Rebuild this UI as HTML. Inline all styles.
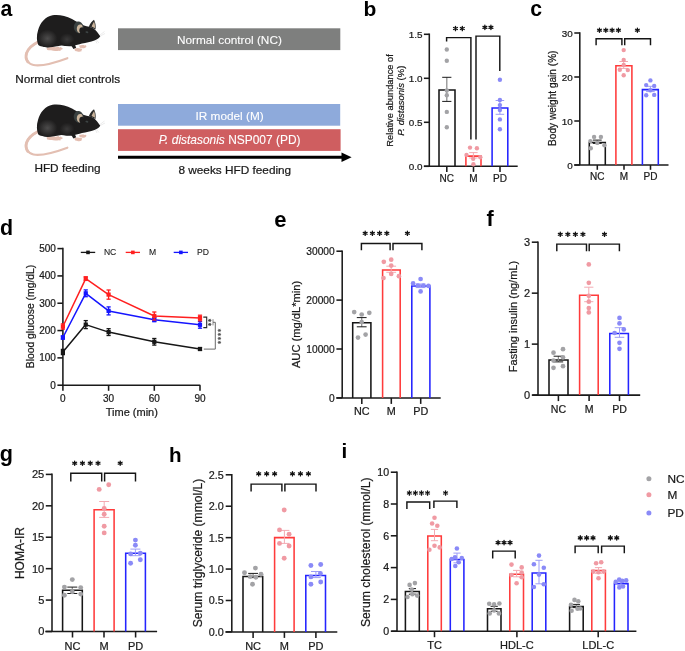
<!DOCTYPE html><html><head><meta charset="utf-8"><style>html,body{margin:0;padding:0;background:#fff;width:685px;height:651px;overflow:hidden}svg{display:block}text{font-family:"Liberation Sans", sans-serif;-webkit-font-smoothing:antialiased;stroke:currentColor;stroke-width:0.22px}text[font-weight=bold]{stroke-width:0}text[fill="#fff"]{stroke-width:0.1px}svg{will-change:transform}</style></head><body>
<svg width="685" height="651" viewBox="0 0 685 651">
<rect width="685" height="651" fill="#fff"/>
<defs>
<radialGradient id="hg1" cx="0.5" cy="0.5" r="0.5"><stop offset="0" stop-color="#4d4c4c"/><stop offset="1" stop-color="#1d1c1c"/></radialGradient>
<radialGradient id="hg2" cx="0.5" cy="0.5" r="0.5"><stop offset="0" stop-color="#3a3939"/><stop offset="1" stop-color="#1d1c1c"/></radialGradient>
</defs>
<g>
<path d="M37.2 42.6 C33 44.5 28.5 48 26.6 53 C24.8 58.5 27.5 63.8 33.5 65 C42 66.6 55 62.8 67.4 58.2" fill="none" stroke="#e3bfb2" stroke-width="2.1" stroke-linecap="round"/><path d="M38 42 C33 44.5 28.5 48 26.6 53 C25.5 56.5 26 59.5 27.8 61.8" fill="none" stroke="#e3bfb2" stroke-width="2.9" stroke-linecap="round"/>
<path d="M46.5 48 C49 46.8 53 47 56 47.3 L58.5 46.6 L59.3 47.4 L61 47.1 L61.7 48.1 L62.8 48.3 L62.2 49.5 L60.6 49.8 L60.5 51 L58.8 50.7 C55 51.2 50 50.7 47.2 50 Z" fill="#e3bdb0"/>
<path d="M74.4 48.6 C76.5 47.6 79 47.8 80.2 48.6 L81.6 48.4 L82.2 49.4 L81.4 50.4 L81.6 51.3 L80.2 51.5 C78.5 52 76 51.8 74.8 50.6 Z" fill="#e3bdb0"/>
<path d="M79.2 45.6 C81 44.8 83.5 44.8 84.6 45.4 L85.8 45.3 L86.5 46.2 L85.9 47.2 L84.9 47.9 C83 48.4 80.6 48.2 79.5 47.3 Z" fill="#e3bdb0"/>
<path d="M38.3 45 C36.6 41 36.4 35.5 38 30.5 C40 22.5 45.5 16.6 52.5 15.2 C58.5 14.3 65.5 15.6 72 19 C76 21.2 79.5 23.5 84 25.6 C87.5 26.8 91 27 93.5 28.4 C96 30 98.5 33.5 100.3 36.3 C99.6 37.8 97.5 39.3 94.5 40.4 C90.5 41.7 86 42.5 82 43.6 C78.5 44.5 76.2 45.3 73.6 45.9 C70 46.8 65.5 46.2 61.5 45.6 C57 46.3 52.5 47.6 48 47.2 C43.5 46.9 40 46.6 38.3 45 Z" fill="#1e1d1d"/>
<ellipse cx="47.5" cy="38.5" rx="10" ry="9" fill="url(#hg1)"/>
<ellipse cx="67" cy="39.5" rx="7.5" ry="6.5" fill="url(#hg2)"/>
<path d="M69.8 43 L73.4 41.6 L76.2 47.8 L73.4 49 Z" fill="#1e1d1d"/>
<ellipse cx="78.7" cy="27.4" rx="4.9" ry="5.9" fill="#394040" transform="rotate(-10 78.7 27.4)"/>
<ellipse cx="82" cy="30.4" rx="2.4" ry="3" fill="#1e1d1d"/>
<path d="M81.9 25.1 C79.2 23.6 76.6 25.8 76.8 29 C77 31.6 78.3 33 80.1 33.2 C79.1 31.6 78.9 29.7 79.8 28.3 C80.5 27.4 81.5 27.1 82.5 27.5 C82.7 26.6 82.5 25.7 81.9 25.1 Z" fill="#cbb49b"/>
<path d="M88.8 26.8 C90 23.6 92 21 94 19.8 C95.5 22.5 96 26 95.5 29.4 C93.5 28.6 91 27.6 88.8 26.8 Z" fill="#2a2b2b"/>
<path d="M91.6 26.6 C92.4 24.4 93.3 22.4 94.1 21.4 C94.9 23.6 95.1 26 94.9 28.2 C93.8 27.7 92.6 27.1 91.6 26.6 Z" fill="#cbb49b"/>
<ellipse cx="86.9" cy="32.2" rx="1.5" ry="0.9" fill="#3d4444" transform="rotate(15 86.9 32.2)"/>
<path d="M100 35 L104.5 31.5 M100.2 36 L105 33.5 M96.5 40 L99 43 M95.5 40.5 L97 43.5" stroke="#d8d8d8" stroke-width="0.5"/>
</g>
<g transform="translate(0 89.5)">
<path d="M37.2 42.6 C33 44.5 28.5 48 26.6 53 C24.8 58.5 27.5 63.8 33.5 65 C42 66.6 55 62.8 67.4 58.2" fill="none" stroke="#e3bfb2" stroke-width="2.1" stroke-linecap="round"/><path d="M38 42 C33 44.5 28.5 48 26.6 53 C25.5 56.5 26 59.5 27.8 61.8" fill="none" stroke="#e3bfb2" stroke-width="2.9" stroke-linecap="round"/>
<path d="M46.5 48 C49 46.8 53 47 56 47.3 L58.5 46.6 L59.3 47.4 L61 47.1 L61.7 48.1 L62.8 48.3 L62.2 49.5 L60.6 49.8 L60.5 51 L58.8 50.7 C55 51.2 50 50.7 47.2 50 Z" fill="#e3bdb0"/>
<path d="M74.4 48.6 C76.5 47.6 79 47.8 80.2 48.6 L81.6 48.4 L82.2 49.4 L81.4 50.4 L81.6 51.3 L80.2 51.5 C78.5 52 76 51.8 74.8 50.6 Z" fill="#e3bdb0"/>
<path d="M79.2 45.6 C81 44.8 83.5 44.8 84.6 45.4 L85.8 45.3 L86.5 46.2 L85.9 47.2 L84.9 47.9 C83 48.4 80.6 48.2 79.5 47.3 Z" fill="#e3bdb0"/>
<path d="M38.3 45 C36.6 41 36.4 35.5 38 30.5 C40 22.5 45.5 16.6 52.5 15.2 C58.5 14.3 65.5 15.6 72 19 C76 21.2 79.5 23.5 84 25.6 C87.5 26.8 91 27 93.5 28.4 C96 30 98.5 33.5 100.3 36.3 C99.6 37.8 97.5 39.3 94.5 40.4 C90.5 41.7 86 42.5 82 43.6 C78.5 44.5 76.2 45.3 73.6 45.9 C70 46.8 65.5 46.2 61.5 45.6 C57 46.3 52.5 47.6 48 47.2 C43.5 46.9 40 46.6 38.3 45 Z" fill="#1e1d1d"/>
<ellipse cx="47.5" cy="38.5" rx="10" ry="9" fill="url(#hg1)"/>
<ellipse cx="67" cy="39.5" rx="7.5" ry="6.5" fill="url(#hg2)"/>
<path d="M69.8 43 L73.4 41.6 L76.2 47.8 L73.4 49 Z" fill="#1e1d1d"/>
<ellipse cx="78.7" cy="27.4" rx="4.9" ry="5.9" fill="#394040" transform="rotate(-10 78.7 27.4)"/>
<ellipse cx="82" cy="30.4" rx="2.4" ry="3" fill="#1e1d1d"/>
<path d="M81.9 25.1 C79.2 23.6 76.6 25.8 76.8 29 C77 31.6 78.3 33 80.1 33.2 C79.1 31.6 78.9 29.7 79.8 28.3 C80.5 27.4 81.5 27.1 82.5 27.5 C82.7 26.6 82.5 25.7 81.9 25.1 Z" fill="#cbb49b"/>
<path d="M88.8 26.8 C90 23.6 92 21 94 19.8 C95.5 22.5 96 26 95.5 29.4 C93.5 28.6 91 27.6 88.8 26.8 Z" fill="#2a2b2b"/>
<path d="M91.6 26.6 C92.4 24.4 93.3 22.4 94.1 21.4 C94.9 23.6 95.1 26 94.9 28.2 C93.8 27.7 92.6 27.1 91.6 26.6 Z" fill="#cbb49b"/>
<ellipse cx="86.9" cy="32.2" rx="1.5" ry="0.9" fill="#3d4444" transform="rotate(15 86.9 32.2)"/>
<path d="M100 35 L104.5 31.5 M100.2 36 L105 33.5 M96.5 40 L99 43 M95.5 40.5 L97 43.5" stroke="#d8d8d8" stroke-width="0.5"/>
</g>
<text x="0.6" y="15.7" font-size="21.2" text-anchor="start" font-weight="bold" fill="#000" color="#000">a</text>
<rect x="118" y="28.3" width="222.3" height="21.8" fill="#7e7f7e"/>
<text x="229.4" y="44.2" font-size="11.8" text-anchor="middle" fill="#fff" color="#fff">Normal control (NC)</text>
<text x="67.6" y="83.2" font-size="11.8" text-anchor="middle" fill="#1a1a1a" color="#1a1a1a">Normal diet controls</text>
<rect x="118" y="104" width="222.2" height="21.7" fill="#8eaadb"/>
<text x="229.6" y="119.9" font-size="11.8" text-anchor="middle" fill="#fff" color="#fff">IR model (M)</text>
<rect x="118" y="129.2" width="222.6" height="21.7" fill="#cf5e60"/>
<text x="229.6" y="144.4" font-size="11.95" text-anchor="middle" fill="#fff" color="#fff"><tspan font-style="italic">P. distasonis</tspan> NSP007 (PD)</text>
<line x1="118" y1="157.3" x2="343" y2="157.3" stroke="#000" stroke-width="3" stroke-linecap="butt"/>
<path d="M341.5 152.6 L351.6 157.3 L341.5 162 Z" fill="#000"/>
<text x="67.5" y="172.4" font-size="11.8" text-anchor="middle" fill="#1a1a1a" color="#1a1a1a">HFD feeding</text>
<text x="234.8" y="174.2" font-size="11.8" text-anchor="middle" fill="#1a1a1a" color="#1a1a1a">8 weeks HFD feeding</text>
<text x="363.4" y="15.8" font-size="21" text-anchor="start" font-weight="bold" fill="#000" color="#000">b</text>
<line x1="429.3" y1="33.52" x2="429.3" y2="166.3" stroke="#1a1a1a" stroke-width="1.55" stroke-linecap="butt"/>
<line x1="423.9" y1="166.3" x2="429.3" y2="166.3" stroke="#1a1a1a" stroke-width="1.55" stroke-linecap="butt"/>
<text x="422.6" y="169.83" font-size="9.9" text-anchor="end" fill="#1a1a1a" color="#1a1a1a">0.0</text>
<line x1="423.9" y1="122.3" x2="429.3" y2="122.3" stroke="#1a1a1a" stroke-width="1.55" stroke-linecap="butt"/>
<text x="422.6" y="125.83" font-size="9.9" text-anchor="end" fill="#1a1a1a" color="#1a1a1a">0.5</text>
<line x1="423.9" y1="78.3" x2="429.3" y2="78.3" stroke="#1a1a1a" stroke-width="1.55" stroke-linecap="butt"/>
<text x="422.6" y="81.83" font-size="9.9" text-anchor="end" fill="#1a1a1a" color="#1a1a1a">1.0</text>
<line x1="423.9" y1="34.3" x2="429.3" y2="34.3" stroke="#1a1a1a" stroke-width="1.55" stroke-linecap="butt"/>
<text x="422.6" y="37.83" font-size="9.9" text-anchor="end" fill="#1a1a1a" color="#1a1a1a">1.5</text>
<line x1="423.9" y1="166.3" x2="517.7" y2="166.3" stroke="#1a1a1a" stroke-width="1.55" stroke-linecap="butt"/>
<line x1="446.8" y1="166.3" x2="446.8" y2="171.9" stroke="#1a1a1a" stroke-width="1.55" stroke-linecap="butt"/>
<text x="446.8" y="182.2" font-size="10" text-anchor="middle" fill="#1a1a1a" color="#1a1a1a">NC</text>
<line x1="473.5" y1="166.3" x2="473.5" y2="171.9" stroke="#1a1a1a" stroke-width="1.55" stroke-linecap="butt"/>
<text x="473.5" y="182.2" font-size="10" text-anchor="middle" fill="#1a1a1a" color="#1a1a1a">M</text>
<line x1="500" y1="166.3" x2="500" y2="171.9" stroke="#1a1a1a" stroke-width="1.55" stroke-linecap="butt"/>
<text x="500" y="182.2" font-size="10" text-anchor="middle" fill="#1a1a1a" color="#1a1a1a">PD</text>
<path d="M439 166.3V90H455V166.3" fill="none" stroke="#161616" stroke-width="1.55"/>
<path d="M465.9 166.3V156.1H481V166.3" fill="none" stroke="#ff3b3b" stroke-width="1.55"/>
<path d="M492.1 166.3V107.9H507.8V166.3" fill="none" stroke="#2424ff" stroke-width="1.55"/>
<line x1="446.8" y1="77.3" x2="446.8" y2="101.4" stroke="#8c8c8c" stroke-width="1.25" stroke-linecap="butt"/>
<line x1="442.2" y1="77.3" x2="451.4" y2="77.3" stroke="#1a1a1a" stroke-width="1" stroke-linecap="butt"/>
<line x1="442.2" y1="101.4" x2="451.4" y2="101.4" stroke="#1a1a1a" stroke-width="1" stroke-linecap="butt"/>
<line x1="473.4" y1="152.6" x2="473.4" y2="158" stroke="#f3aab2" stroke-width="1" stroke-linecap="butt"/>
<line x1="469.2" y1="152.6" x2="477.6" y2="152.6" stroke="#f3aab2" stroke-width="1" stroke-linecap="butt"/>
<line x1="469.2" y1="158" x2="477.6" y2="158" stroke="#f3aab2" stroke-width="1" stroke-linecap="butt"/>
<line x1="499.9" y1="100.5" x2="499.9" y2="114.3" stroke="#9d9df7" stroke-width="1" stroke-linecap="butt"/>
<line x1="495.6" y1="100.5" x2="504.2" y2="100.5" stroke="#9d9df7" stroke-width="1" stroke-linecap="butt"/>
<line x1="495.6" y1="114.3" x2="504.2" y2="114.3" stroke="#9d9df7" stroke-width="1" stroke-linecap="butt"/>
<polyline points="446.6,41.5 446.6,37.6 470.9,37.6 470.9,139.6" fill="none" stroke="#151515" stroke-width="1.45" stroke-linejoin="miter"/>
<polyline points="476,139.6 476,36.1 499.8,36.1 499.8,71.1" fill="none" stroke="#151515" stroke-width="1.45" stroke-linejoin="miter"/>
<path d="M455.48 26.35L455.48 30.65M453.56 27.52L457.39 29.48M453.56 29.48L457.39 27.52" stroke="#111" stroke-width="1.32" stroke-linecap="round"/>
<path d="M462.32 26.35L462.32 30.65M460.41 27.52L464.24 29.48M460.41 29.48L464.24 27.52" stroke="#111" stroke-width="1.32" stroke-linecap="round"/>
<path d="M484.88 25.25L484.88 29.55M482.96 26.42L486.79 28.38M482.96 28.38L486.79 26.42" stroke="#111" stroke-width="1.32" stroke-linecap="round"/>
<path d="M490.93 25.25L490.93 29.55M489.01 26.42L492.84 28.38M489.01 28.38L492.84 26.42" stroke="#111" stroke-width="1.32" stroke-linecap="round"/>
<text x="392.8" y="100.4" font-size="9.3" text-anchor="middle" fill="#1a1a1a" color="#1a1a1a" transform="rotate(-90 392.8 100.4)">Relative abundance of</text>
<text x="403.6" y="100.7" font-size="9.5" text-anchor="middle" fill="#1a1a1a" color="#1a1a1a" transform="rotate(-90 403.6 100.7)"><tspan font-style="italic">P. distasonis</tspan> (%)</text>
<circle cx="446.8" cy="49.5" r="2.2" fill="#a3a3a6"/>
<circle cx="446.8" cy="60.7" r="2.2" fill="#a3a3a6"/>
<circle cx="446.8" cy="90.5" r="2.2" fill="#a3a3a6"/>
<circle cx="446.8" cy="95.3" r="2.2" fill="#a3a3a6"/>
<circle cx="446.8" cy="111.9" r="2.2" fill="#a3a3a6"/>
<circle cx="446.8" cy="127.3" r="2.2" fill="#a3a3a6"/>
<circle cx="470" cy="147.6" r="2.2" fill="#f09aa3"/>
<circle cx="476.9" cy="148.3" r="2.2" fill="#f09aa3"/>
<circle cx="466.5" cy="154.9" r="2.2" fill="#f09aa3"/>
<circle cx="480.3" cy="157.2" r="2.2" fill="#f09aa3"/>
<circle cx="473.2" cy="158.8" r="2.2" fill="#f09aa3"/>
<circle cx="473.4" cy="164.3" r="2.2" fill="#f09aa3"/>
<circle cx="499.9" cy="79.7" r="2.2" fill="#8a8af7"/>
<circle cx="499.9" cy="100" r="2.2" fill="#8a8af7"/>
<circle cx="499.9" cy="105.1" r="2.2" fill="#8a8af7"/>
<circle cx="499.9" cy="110.1" r="2.2" fill="#8a8af7"/>
<circle cx="499.9" cy="119.4" r="2.2" fill="#8a8af7"/>
<circle cx="499.9" cy="129.2" r="2.2" fill="#8a8af7"/>
<text x="530.2" y="15.5" font-size="21.2" text-anchor="start" font-weight="bold" fill="#000" color="#000">c</text>
<line x1="579.8" y1="32.23" x2="579.8" y2="165" stroke="#1a1a1a" stroke-width="1.55" stroke-linecap="butt"/>
<line x1="574.3" y1="165" x2="579.8" y2="165" stroke="#1a1a1a" stroke-width="1.55" stroke-linecap="butt"/>
<text x="572.8" y="168.53" font-size="9.9" text-anchor="end" fill="#1a1a1a" color="#1a1a1a">0</text>
<line x1="574.3" y1="121" x2="579.8" y2="121" stroke="#1a1a1a" stroke-width="1.55" stroke-linecap="butt"/>
<text x="572.8" y="124.53" font-size="9.9" text-anchor="end" fill="#1a1a1a" color="#1a1a1a">10</text>
<line x1="574.3" y1="77" x2="579.8" y2="77" stroke="#1a1a1a" stroke-width="1.55" stroke-linecap="butt"/>
<text x="572.8" y="80.53" font-size="9.9" text-anchor="end" fill="#1a1a1a" color="#1a1a1a">20</text>
<line x1="574.3" y1="33" x2="579.8" y2="33" stroke="#1a1a1a" stroke-width="1.55" stroke-linecap="butt"/>
<text x="572.8" y="36.53" font-size="9.9" text-anchor="end" fill="#1a1a1a" color="#1a1a1a">30</text>
<line x1="574.3" y1="165" x2="668.5" y2="165" stroke="#1a1a1a" stroke-width="1.55" stroke-linecap="butt"/>
<line x1="597.3" y1="165" x2="597.3" y2="169.8" stroke="#1a1a1a" stroke-width="1.55" stroke-linecap="butt"/>
<text x="597.3" y="180" font-size="10" text-anchor="middle" fill="#1a1a1a" color="#1a1a1a">NC</text>
<line x1="624" y1="165" x2="624" y2="169.8" stroke="#1a1a1a" stroke-width="1.55" stroke-linecap="butt"/>
<text x="624" y="180" font-size="10" text-anchor="middle" fill="#1a1a1a" color="#1a1a1a">M</text>
<line x1="650.5" y1="165" x2="650.5" y2="169.8" stroke="#1a1a1a" stroke-width="1.55" stroke-linecap="butt"/>
<text x="650.5" y="180" font-size="10" text-anchor="middle" fill="#1a1a1a" color="#1a1a1a">PD</text>
<path d="M589.3 165V142.4H605.3V165" fill="none" stroke="#161616" stroke-width="1.55"/>
<path d="M615.9 165V65.7H631.9V165" fill="none" stroke="#ff3b3b" stroke-width="1.55"/>
<path d="M642.4 165V89.6H658.3V165" fill="none" stroke="#2424ff" stroke-width="1.55"/>
<line x1="597.3" y1="140.1" x2="597.3" y2="143.4" stroke="#8c8c8c" stroke-width="1.25" stroke-linecap="butt"/>
<line x1="592.9" y1="140.1" x2="601.7" y2="140.1" stroke="#1a1a1a" stroke-width="1" stroke-linecap="butt"/>
<line x1="592.9" y1="143.4" x2="601.7" y2="143.4" stroke="#1a1a1a" stroke-width="1" stroke-linecap="butt"/>
<line x1="623.7" y1="61.5" x2="623.7" y2="68.4" stroke="#f3aab2" stroke-width="1" stroke-linecap="butt"/>
<line x1="619.4" y1="61.5" x2="628" y2="61.5" stroke="#f3aab2" stroke-width="1" stroke-linecap="butt"/>
<line x1="619.4" y1="68.4" x2="628" y2="68.4" stroke="#f3aab2" stroke-width="1" stroke-linecap="butt"/>
<line x1="650.4" y1="86.3" x2="650.4" y2="91.6" stroke="#9d9df7" stroke-width="1" stroke-linecap="butt"/>
<line x1="646.1" y1="86.3" x2="654.7" y2="86.3" stroke="#9d9df7" stroke-width="1" stroke-linecap="butt"/>
<line x1="646.1" y1="91.6" x2="654.7" y2="91.6" stroke="#9d9df7" stroke-width="1" stroke-linecap="butt"/>
<polyline points="596.1,45.2 596.1,38.7 621.9,38.7 621.9,45.2" fill="none" stroke="#151515" stroke-width="1.45" stroke-linejoin="miter"/>
<polyline points="624.7,45.2 624.7,38.7 650.5,38.7 650.5,45.2" fill="none" stroke="#151515" stroke-width="1.45" stroke-linejoin="miter"/>
<path d="M599.47 28.05L599.47 32.35M597.56 29.22L601.39 31.18M597.56 31.18L601.39 29.22" stroke="#111" stroke-width="1.32" stroke-linecap="round"/>
<path d="M605.79 28.05L605.79 32.35M603.88 29.22L607.71 31.18M603.88 31.18L607.71 29.22" stroke="#111" stroke-width="1.32" stroke-linecap="round"/>
<path d="M612.11 28.05L612.11 32.35M610.19 29.22L614.02 31.18M610.19 31.18L614.02 29.22" stroke="#111" stroke-width="1.32" stroke-linecap="round"/>
<path d="M618.43 28.05L618.43 32.35M616.51 29.22L620.34 31.18M616.51 31.18L620.34 29.22" stroke="#111" stroke-width="1.32" stroke-linecap="round"/>
<path d="M637.4 28.05L637.4 32.35M635.48 29.22L639.32 31.18M635.48 31.18L639.32 29.22" stroke="#111" stroke-width="1.32" stroke-linecap="round"/>
<text x="556.2" y="98.2" font-size="10.1" text-anchor="middle" fill="#1a1a1a" color="#1a1a1a" transform="rotate(-90 556.2 98.2)">Body weight gain (%)</text>
<circle cx="594.1" cy="136.9" r="2.2" fill="#a3a3a6"/>
<circle cx="600.9" cy="136.9" r="2.2" fill="#a3a3a6"/>
<circle cx="590.4" cy="141.1" r="2.2" fill="#a3a3a6"/>
<circle cx="597.3" cy="142.9" r="2.2" fill="#a3a3a6"/>
<circle cx="604.4" cy="145.2" r="2.2" fill="#a3a3a6"/>
<circle cx="590.8" cy="148.3" r="2.2" fill="#a3a3a6"/>
<circle cx="623.7" cy="50.1" r="2.2" fill="#f09aa3"/>
<circle cx="623.7" cy="59.9" r="2.2" fill="#f09aa3"/>
<circle cx="623.7" cy="64.9" r="2.2" fill="#f09aa3"/>
<circle cx="619.8" cy="69.8" r="2.2" fill="#f09aa3"/>
<circle cx="627.8" cy="70.1" r="2.2" fill="#f09aa3"/>
<circle cx="623.7" cy="75.3" r="2.2" fill="#f09aa3"/>
<circle cx="650.4" cy="80.4" r="2.2" fill="#8a8af7"/>
<circle cx="646.2" cy="85.1" r="2.2" fill="#8a8af7"/>
<circle cx="654.2" cy="85.9" r="2.2" fill="#8a8af7"/>
<circle cx="650.4" cy="90.3" r="2.2" fill="#8a8af7"/>
<circle cx="646.2" cy="95.2" r="2.2" fill="#8a8af7"/>
<circle cx="654.2" cy="94.9" r="2.2" fill="#8a8af7"/>
<text x="0" y="234.6" font-size="21.4" text-anchor="start" font-weight="bold" fill="#000" color="#000">d</text>
<line x1="62.9" y1="247.82" x2="62.9" y2="390.8" stroke="#1a1a1a" stroke-width="1.55" stroke-linecap="butt"/>
<line x1="57.4" y1="385.2" x2="62.9" y2="385.2" stroke="#1a1a1a" stroke-width="1.55" stroke-linecap="butt"/>
<text x="55.9" y="388.75" font-size="10" text-anchor="end" fill="#1a1a1a" color="#1a1a1a">0</text>
<line x1="57.4" y1="357.88" x2="62.9" y2="357.88" stroke="#1a1a1a" stroke-width="1.55" stroke-linecap="butt"/>
<text x="55.9" y="361.43" font-size="10" text-anchor="end" fill="#1a1a1a" color="#1a1a1a">100</text>
<line x1="57.4" y1="330.56" x2="62.9" y2="330.56" stroke="#1a1a1a" stroke-width="1.55" stroke-linecap="butt"/>
<text x="55.9" y="334.11" font-size="10" text-anchor="end" fill="#1a1a1a" color="#1a1a1a">200</text>
<line x1="57.4" y1="303.24" x2="62.9" y2="303.24" stroke="#1a1a1a" stroke-width="1.55" stroke-linecap="butt"/>
<text x="55.9" y="306.79" font-size="10" text-anchor="end" fill="#1a1a1a" color="#1a1a1a">300</text>
<line x1="57.4" y1="275.92" x2="62.9" y2="275.92" stroke="#1a1a1a" stroke-width="1.55" stroke-linecap="butt"/>
<text x="55.9" y="279.47" font-size="10" text-anchor="end" fill="#1a1a1a" color="#1a1a1a">400</text>
<line x1="57.4" y1="248.6" x2="62.9" y2="248.6" stroke="#1a1a1a" stroke-width="1.55" stroke-linecap="butt"/>
<text x="55.9" y="252.15" font-size="10" text-anchor="end" fill="#1a1a1a" color="#1a1a1a">500</text>
<line x1="62.2" y1="385.2" x2="200.3" y2="385.2" stroke="#1a1a1a" stroke-width="1.55" stroke-linecap="butt"/>
<line x1="108.6" y1="385.2" x2="108.6" y2="390.8" stroke="#1a1a1a" stroke-width="1.55" stroke-linecap="butt"/>
<line x1="154.3" y1="385.2" x2="154.3" y2="390.8" stroke="#1a1a1a" stroke-width="1.55" stroke-linecap="butt"/>
<line x1="200" y1="385.2" x2="200" y2="390.8" stroke="#1a1a1a" stroke-width="1.55" stroke-linecap="butt"/>
<text x="62.9" y="402" font-size="10" text-anchor="middle" fill="#1a1a1a" color="#1a1a1a">0</text>
<text x="108.6" y="402" font-size="10" text-anchor="middle" fill="#1a1a1a" color="#1a1a1a">30</text>
<text x="154.3" y="402" font-size="10" text-anchor="middle" fill="#1a1a1a" color="#1a1a1a">60</text>
<text x="200" y="402" font-size="10" text-anchor="middle" fill="#1a1a1a" color="#1a1a1a">90</text>
<text x="131.8" y="416.3" font-size="11" text-anchor="middle" fill="#1a1a1a" color="#1a1a1a">Time (min)</text>
<text x="34.4" y="316.5" font-size="10.35" text-anchor="middle" fill="#1a1a1a" color="#1a1a1a" transform="rotate(-90 34.4 316.5)">Blood glucose (mg/dL)</text>
<polyline points="62.9,352 85.75,324.6 108.6,332.1 154.3,341.8 200,349" fill="none" stroke="#161616" stroke-width="1.5" stroke-linejoin="round"/>
<line x1="62.9" y1="349.4" x2="62.9" y2="354.6" stroke="#161616" stroke-width="1.3" stroke-linecap="butt"/>
<line x1="60.8" y1="349.4" x2="65" y2="349.4" stroke="#161616" stroke-width="1.3" stroke-linecap="butt"/>
<line x1="60.8" y1="354.6" x2="65" y2="354.6" stroke="#161616" stroke-width="1.3" stroke-linecap="butt"/>
<rect x="60.8" y="349.9" width="4.2" height="4.2" fill="#161616"/>
<line x1="85.75" y1="320.6" x2="85.75" y2="328.6" stroke="#161616" stroke-width="1.3" stroke-linecap="butt"/>
<line x1="83.65" y1="320.6" x2="87.85" y2="320.6" stroke="#161616" stroke-width="1.3" stroke-linecap="butt"/>
<line x1="83.65" y1="328.6" x2="87.85" y2="328.6" stroke="#161616" stroke-width="1.3" stroke-linecap="butt"/>
<rect x="83.65" y="322.5" width="4.2" height="4.2" fill="#161616"/>
<line x1="108.6" y1="328.7" x2="108.6" y2="335.5" stroke="#161616" stroke-width="1.3" stroke-linecap="butt"/>
<line x1="106.5" y1="328.7" x2="110.7" y2="328.7" stroke="#161616" stroke-width="1.3" stroke-linecap="butt"/>
<line x1="106.5" y1="335.5" x2="110.7" y2="335.5" stroke="#161616" stroke-width="1.3" stroke-linecap="butt"/>
<rect x="106.5" y="330" width="4.2" height="4.2" fill="#161616"/>
<line x1="154.3" y1="338.5" x2="154.3" y2="345.1" stroke="#161616" stroke-width="1.3" stroke-linecap="butt"/>
<line x1="152.2" y1="338.5" x2="156.4" y2="338.5" stroke="#161616" stroke-width="1.3" stroke-linecap="butt"/>
<line x1="152.2" y1="345.1" x2="156.4" y2="345.1" stroke="#161616" stroke-width="1.3" stroke-linecap="butt"/>
<rect x="152.2" y="339.7" width="4.2" height="4.2" fill="#161616"/>
<line x1="200" y1="347.6" x2="200" y2="350.4" stroke="#161616" stroke-width="1.3" stroke-linecap="butt"/>
<line x1="197.9" y1="347.6" x2="202.1" y2="347.6" stroke="#161616" stroke-width="1.3" stroke-linecap="butt"/>
<line x1="197.9" y1="350.4" x2="202.1" y2="350.4" stroke="#161616" stroke-width="1.3" stroke-linecap="butt"/>
<rect x="197.9" y="346.9" width="4.2" height="4.2" fill="#161616"/>
<polyline points="62.9,337.5 85.75,293.3 108.6,310.9 154.3,319.7 200,324.8" fill="none" stroke="#1515ff" stroke-width="1.5" stroke-linejoin="round"/>
<line x1="62.9" y1="335.9" x2="62.9" y2="339.1" stroke="#1515ff" stroke-width="1.3" stroke-linecap="butt"/>
<line x1="60.8" y1="335.9" x2="65" y2="335.9" stroke="#1515ff" stroke-width="1.3" stroke-linecap="butt"/>
<line x1="60.8" y1="339.1" x2="65" y2="339.1" stroke="#1515ff" stroke-width="1.3" stroke-linecap="butt"/>
<rect x="60.8" y="335.4" width="4.2" height="4.2" fill="#1515ff"/>
<line x1="85.75" y1="289.9" x2="85.75" y2="296.7" stroke="#1515ff" stroke-width="1.3" stroke-linecap="butt"/>
<line x1="83.65" y1="289.9" x2="87.85" y2="289.9" stroke="#1515ff" stroke-width="1.3" stroke-linecap="butt"/>
<line x1="83.65" y1="296.7" x2="87.85" y2="296.7" stroke="#1515ff" stroke-width="1.3" stroke-linecap="butt"/>
<rect x="83.65" y="291.2" width="4.2" height="4.2" fill="#1515ff"/>
<line x1="108.6" y1="306.9" x2="108.6" y2="314.9" stroke="#1515ff" stroke-width="1.3" stroke-linecap="butt"/>
<line x1="106.5" y1="306.9" x2="110.7" y2="306.9" stroke="#1515ff" stroke-width="1.3" stroke-linecap="butt"/>
<line x1="106.5" y1="314.9" x2="110.7" y2="314.9" stroke="#1515ff" stroke-width="1.3" stroke-linecap="butt"/>
<rect x="106.5" y="308.8" width="4.2" height="4.2" fill="#1515ff"/>
<line x1="154.3" y1="317.7" x2="154.3" y2="321.7" stroke="#1515ff" stroke-width="1.3" stroke-linecap="butt"/>
<line x1="152.2" y1="317.7" x2="156.4" y2="317.7" stroke="#1515ff" stroke-width="1.3" stroke-linecap="butt"/>
<line x1="152.2" y1="321.7" x2="156.4" y2="321.7" stroke="#1515ff" stroke-width="1.3" stroke-linecap="butt"/>
<rect x="152.2" y="317.6" width="4.2" height="4.2" fill="#1515ff"/>
<line x1="200" y1="321.4" x2="200" y2="328.2" stroke="#1515ff" stroke-width="1.3" stroke-linecap="butt"/>
<line x1="197.9" y1="321.4" x2="202.1" y2="321.4" stroke="#1515ff" stroke-width="1.3" stroke-linecap="butt"/>
<line x1="197.9" y1="328.2" x2="202.1" y2="328.2" stroke="#1515ff" stroke-width="1.3" stroke-linecap="butt"/>
<rect x="197.9" y="322.7" width="4.2" height="4.2" fill="#1515ff"/>
<polyline points="62.9,326.5 85.75,278.6 108.6,294.6 154.3,316 200,318" fill="none" stroke="#ff1f1f" stroke-width="1.5" stroke-linejoin="round"/>
<line x1="62.9" y1="323.9" x2="62.9" y2="329.1" stroke="#ff1f1f" stroke-width="1.3" stroke-linecap="butt"/>
<line x1="60.8" y1="323.9" x2="65" y2="323.9" stroke="#ff1f1f" stroke-width="1.3" stroke-linecap="butt"/>
<line x1="60.8" y1="329.1" x2="65" y2="329.1" stroke="#ff1f1f" stroke-width="1.3" stroke-linecap="butt"/>
<rect x="60.8" y="324.4" width="4.2" height="4.2" fill="#ff1f1f"/>
<line x1="85.75" y1="276.8" x2="85.75" y2="280.4" stroke="#ff1f1f" stroke-width="1.3" stroke-linecap="butt"/>
<line x1="83.65" y1="276.8" x2="87.85" y2="276.8" stroke="#ff1f1f" stroke-width="1.3" stroke-linecap="butt"/>
<line x1="83.65" y1="280.4" x2="87.85" y2="280.4" stroke="#ff1f1f" stroke-width="1.3" stroke-linecap="butt"/>
<rect x="83.65" y="276.5" width="4.2" height="4.2" fill="#ff1f1f"/>
<line x1="108.6" y1="290" x2="108.6" y2="299.2" stroke="#ff1f1f" stroke-width="1.3" stroke-linecap="butt"/>
<line x1="106.5" y1="290" x2="110.7" y2="290" stroke="#ff1f1f" stroke-width="1.3" stroke-linecap="butt"/>
<line x1="106.5" y1="299.2" x2="110.7" y2="299.2" stroke="#ff1f1f" stroke-width="1.3" stroke-linecap="butt"/>
<rect x="106.5" y="292.5" width="4.2" height="4.2" fill="#ff1f1f"/>
<line x1="154.3" y1="312" x2="154.3" y2="320" stroke="#ff1f1f" stroke-width="1.3" stroke-linecap="butt"/>
<line x1="152.2" y1="312" x2="156.4" y2="312" stroke="#ff1f1f" stroke-width="1.3" stroke-linecap="butt"/>
<line x1="152.2" y1="320" x2="156.4" y2="320" stroke="#ff1f1f" stroke-width="1.3" stroke-linecap="butt"/>
<rect x="152.2" y="313.9" width="4.2" height="4.2" fill="#ff1f1f"/>
<line x1="200" y1="315.2" x2="200" y2="320.8" stroke="#ff1f1f" stroke-width="1.3" stroke-linecap="butt"/>
<line x1="197.9" y1="315.2" x2="202.1" y2="315.2" stroke="#ff1f1f" stroke-width="1.3" stroke-linecap="butt"/>
<line x1="197.9" y1="320.8" x2="202.1" y2="320.8" stroke="#ff1f1f" stroke-width="1.3" stroke-linecap="butt"/>
<rect x="197.9" y="315.9" width="4.2" height="4.2" fill="#ff1f1f"/>
<line x1="80.8" y1="252.4" x2="95.2" y2="252.4" stroke="#161616" stroke-width="1.3" stroke-linecap="butt"/>
<rect x="86.2" y="250.6" width="3.6" height="3.6" fill="#161616"/>
<text x="103.9" y="255.1" font-size="8.6" text-anchor="start" fill="#1a1a1a" color="#1a1a1a" style="stroke-width:0.1px">NC</text>
<line x1="125.7" y1="252.4" x2="140" y2="252.4" stroke="#ff1f1f" stroke-width="1.3" stroke-linecap="butt"/>
<rect x="131.05" y="250.6" width="3.6" height="3.6" fill="#ff1f1f"/>
<text x="149" y="255.1" font-size="8.6" text-anchor="start" fill="#1a1a1a" color="#1a1a1a" style="stroke-width:0.1px">M</text>
<line x1="173.7" y1="252.4" x2="188" y2="252.4" stroke="#1515ff" stroke-width="1.3" stroke-linecap="butt"/>
<rect x="179.05" y="250.6" width="3.6" height="3.6" fill="#1515ff"/>
<text x="197" y="255.1" font-size="8.6" text-anchor="start" fill="#1a1a1a" color="#1a1a1a" style="stroke-width:0.1px">PD</text>
<polyline points="203.3,317.1 206.7,317.1 206.7,327.6 203.3,327.6" fill="none" stroke="#2a2a2a" stroke-width="1.1" stroke-linejoin="miter"/>
<polyline points="213,319.2 213,325.4" fill="none" stroke="#888" stroke-width="1" stroke-linejoin="miter"/>
<polyline points="213,322.3 215.3,322.3 215.3,349.1 203.8,349.1" fill="none" stroke="#6a6a6a" stroke-width="1" stroke-linejoin="miter"/>
<path d="M210.99 320.4L208.41 320.4M210.29 319.25L209.11 321.55M209.11 319.25L210.29 321.55" stroke="#444" stroke-width="0.98" stroke-linecap="round"/>
<path d="M210.99 324.4L208.41 324.4M210.29 323.25L209.11 325.55M209.11 323.25L210.29 325.55" stroke="#444" stroke-width="0.98" stroke-linecap="round"/>
<path d="M220.69 330.4L218.11 330.4M219.99 329.25L218.81 331.55M218.81 329.25L219.99 331.55" stroke="#555" stroke-width="0.98" stroke-linecap="round"/>
<path d="M220.69 334.4L218.11 334.4M219.99 333.25L218.81 335.55M218.81 333.25L219.99 335.55" stroke="#555" stroke-width="0.98" stroke-linecap="round"/>
<path d="M220.69 338.4L218.11 338.4M219.99 337.25L218.81 339.55M218.81 337.25L219.99 339.55" stroke="#555" stroke-width="0.98" stroke-linecap="round"/>
<path d="M220.69 342.4L218.11 342.4M219.99 341.25L218.81 343.55M218.81 341.25L219.99 343.55" stroke="#555" stroke-width="0.98" stroke-linecap="round"/>
<text x="274.3" y="226.5" font-size="22" text-anchor="start" font-weight="bold" fill="#000" color="#000">e</text>
<line x1="342.2" y1="250.42" x2="342.2" y2="397.9" stroke="#1a1a1a" stroke-width="1.55" stroke-linecap="butt"/>
<line x1="336.4" y1="397.9" x2="342.2" y2="397.9" stroke="#1a1a1a" stroke-width="1.55" stroke-linecap="butt"/>
<text x="334.7" y="401.54" font-size="10.2" text-anchor="end" fill="#1a1a1a" color="#1a1a1a">0</text>
<line x1="336.4" y1="349" x2="342.2" y2="349" stroke="#1a1a1a" stroke-width="1.55" stroke-linecap="butt"/>
<text x="334.7" y="352.64" font-size="10.2" text-anchor="end" fill="#1a1a1a" color="#1a1a1a">10000</text>
<line x1="336.4" y1="300.1" x2="342.2" y2="300.1" stroke="#1a1a1a" stroke-width="1.55" stroke-linecap="butt"/>
<text x="334.7" y="303.74" font-size="10.2" text-anchor="end" fill="#1a1a1a" color="#1a1a1a">20000</text>
<line x1="336.4" y1="251.2" x2="342.2" y2="251.2" stroke="#1a1a1a" stroke-width="1.55" stroke-linecap="butt"/>
<text x="334.7" y="254.84" font-size="10.2" text-anchor="end" fill="#1a1a1a" color="#1a1a1a">30000</text>
<line x1="336.4" y1="397.9" x2="440.7" y2="397.9" stroke="#1a1a1a" stroke-width="1.55" stroke-linecap="butt"/>
<line x1="361.8" y1="397.9" x2="361.8" y2="403.9" stroke="#1a1a1a" stroke-width="1.55" stroke-linecap="butt"/>
<text x="361.8" y="415.3" font-size="10.8" text-anchor="middle" fill="#1a1a1a" color="#1a1a1a">NC</text>
<line x1="391.3" y1="397.9" x2="391.3" y2="403.9" stroke="#1a1a1a" stroke-width="1.55" stroke-linecap="butt"/>
<text x="391.3" y="415.3" font-size="10.8" text-anchor="middle" fill="#1a1a1a" color="#1a1a1a">M</text>
<line x1="420.7" y1="397.9" x2="420.7" y2="403.9" stroke="#1a1a1a" stroke-width="1.55" stroke-linecap="butt"/>
<text x="420.7" y="415.3" font-size="10.8" text-anchor="middle" fill="#1a1a1a" color="#1a1a1a">PD</text>
<path d="M352.7 397.9V322.8H370.9V397.9" fill="none" stroke="#161616" stroke-width="1.55"/>
<path d="M382.6 397.9V269.9H400.2V397.9" fill="none" stroke="#ff3b3b" stroke-width="1.55"/>
<path d="M411.8 397.9V285.9H429.9V397.9" fill="none" stroke="#2424ff" stroke-width="1.55"/>
<line x1="361.7" y1="317.6" x2="361.7" y2="326.8" stroke="#8c8c8c" stroke-width="1.25" stroke-linecap="butt"/>
<line x1="356.8" y1="317.6" x2="366.6" y2="317.6" stroke="#1a1a1a" stroke-width="1" stroke-linecap="butt"/>
<line x1="356.8" y1="326.8" x2="366.6" y2="326.8" stroke="#1a1a1a" stroke-width="1" stroke-linecap="butt"/>
<line x1="391.2" y1="266.2" x2="391.2" y2="272.3" stroke="#f3aab2" stroke-width="1" stroke-linecap="butt"/>
<line x1="386.3" y1="266.2" x2="396.1" y2="266.2" stroke="#f3aab2" stroke-width="1" stroke-linecap="butt"/>
<line x1="386.3" y1="272.3" x2="396.1" y2="272.3" stroke="#f3aab2" stroke-width="1" stroke-linecap="butt"/>
<line x1="420.6" y1="284" x2="420.6" y2="287.6" stroke="#9d9df7" stroke-width="1" stroke-linecap="butt"/>
<line x1="415.7" y1="284" x2="425.5" y2="284" stroke="#9d9df7" stroke-width="1" stroke-linecap="butt"/>
<line x1="415.7" y1="287.6" x2="425.5" y2="287.6" stroke="#9d9df7" stroke-width="1" stroke-linecap="butt"/>
<polyline points="361.4,250.2 361.4,243.4 390.1,243.4 390.1,250.2" fill="none" stroke="#151515" stroke-width="1.45" stroke-linejoin="miter"/>
<polyline points="393,250.2 393,243.4 421.9,243.4 421.9,250.2" fill="none" stroke="#151515" stroke-width="1.45" stroke-linejoin="miter"/>
<path d="M365.18 231.15L365.18 235.45M363.26 232.32L367.09 234.28M363.26 234.28L367.09 232.32" stroke="#111" stroke-width="1.32" stroke-linecap="round"/>
<path d="M372.39 231.15L372.39 235.45M370.48 232.32L374.31 234.28M370.48 234.28L374.31 232.32" stroke="#111" stroke-width="1.32" stroke-linecap="round"/>
<path d="M379.61 231.15L379.61 235.45M377.69 232.32L381.52 234.28M377.69 234.28L381.52 232.32" stroke="#111" stroke-width="1.32" stroke-linecap="round"/>
<path d="M386.82 231.15L386.82 235.45M384.91 232.32L388.74 234.28M384.91 234.28L388.74 232.32" stroke="#111" stroke-width="1.32" stroke-linecap="round"/>
<path d="M407.4 231.15L407.4 235.45M405.48 232.32L409.32 234.28M405.48 234.28L409.32 232.32" stroke="#111" stroke-width="1.32" stroke-linecap="round"/>
<text x="299.6" y="324.4" font-size="11.15" text-anchor="middle" fill="#1a1a1a" color="#1a1a1a" transform="rotate(-90 299.6 324.4)">AUC (mg/dL*min)</text>
<circle cx="354.2" cy="312.1" r="2.35" fill="#a3a3a6"/>
<circle cx="361.7" cy="314.5" r="2.35" fill="#a3a3a6"/>
<circle cx="369.3" cy="312.8" r="2.35" fill="#a3a3a6"/>
<circle cx="361.7" cy="322" r="2.35" fill="#a3a3a6"/>
<circle cx="365.6" cy="334.6" r="2.35" fill="#a3a3a6"/>
<circle cx="358" cy="337.6" r="2.35" fill="#a3a3a6"/>
<circle cx="383.8" cy="261.8" r="2.35" fill="#f09aa3"/>
<circle cx="391.2" cy="259.7" r="2.35" fill="#f09aa3"/>
<circle cx="391.2" cy="265.6" r="2.35" fill="#f09aa3"/>
<circle cx="391.2" cy="273.9" r="2.35" fill="#f09aa3"/>
<circle cx="383.5" cy="278.1" r="2.35" fill="#f09aa3"/>
<circle cx="398.9" cy="276.2" r="2.35" fill="#f09aa3"/>
<circle cx="420.6" cy="279" r="2.35" fill="#8a8af7"/>
<circle cx="413.1" cy="283.4" r="2.35" fill="#8a8af7"/>
<circle cx="428.5" cy="285.9" r="2.35" fill="#8a8af7"/>
<circle cx="417.9" cy="285.5" r="2.35" fill="#8a8af7"/>
<circle cx="423.4" cy="285.5" r="2.35" fill="#8a8af7"/>
<circle cx="420.6" cy="291.4" r="2.35" fill="#8a8af7"/>
<text x="486.5" y="226.1" font-size="21.6" text-anchor="start" font-weight="bold" fill="#000" color="#000">f</text>
<line x1="538" y1="241.42" x2="538" y2="395.1" stroke="#1a1a1a" stroke-width="1.55" stroke-linecap="butt"/>
<line x1="531.8" y1="395.1" x2="538" y2="395.1" stroke="#1a1a1a" stroke-width="1.55" stroke-linecap="butt"/>
<text x="530.2" y="399.03" font-size="11" text-anchor="end" fill="#1a1a1a" color="#1a1a1a">0</text>
<line x1="531.8" y1="344.13" x2="538" y2="344.13" stroke="#1a1a1a" stroke-width="1.55" stroke-linecap="butt"/>
<text x="530.2" y="348.06" font-size="11" text-anchor="end" fill="#1a1a1a" color="#1a1a1a">1</text>
<line x1="531.8" y1="293.16" x2="538" y2="293.16" stroke="#1a1a1a" stroke-width="1.55" stroke-linecap="butt"/>
<text x="530.2" y="297.09" font-size="11" text-anchor="end" fill="#1a1a1a" color="#1a1a1a">2</text>
<line x1="531.8" y1="242.19" x2="538" y2="242.19" stroke="#1a1a1a" stroke-width="1.55" stroke-linecap="butt"/>
<text x="530.2" y="246.12" font-size="11" text-anchor="end" fill="#1a1a1a" color="#1a1a1a">3</text>
<line x1="532.3" y1="395.1" x2="640.2" y2="395.1" stroke="#1a1a1a" stroke-width="1.55" stroke-linecap="butt"/>
<line x1="558.4" y1="395.1" x2="558.4" y2="401.1" stroke="#1a1a1a" stroke-width="1.55" stroke-linecap="butt"/>
<text x="558.4" y="412.9" font-size="10.6" text-anchor="middle" fill="#1a1a1a" color="#1a1a1a">NC</text>
<line x1="589.1" y1="395.1" x2="589.1" y2="401.1" stroke="#1a1a1a" stroke-width="1.55" stroke-linecap="butt"/>
<text x="589.1" y="412.9" font-size="10.6" text-anchor="middle" fill="#1a1a1a" color="#1a1a1a">M</text>
<line x1="619.5" y1="395.1" x2="619.5" y2="401.1" stroke="#1a1a1a" stroke-width="1.55" stroke-linecap="butt"/>
<text x="619.5" y="412.9" font-size="10.6" text-anchor="middle" fill="#1a1a1a" color="#1a1a1a">PD</text>
<path d="M549 395.1V359.9H568V395.1" fill="none" stroke="#161616" stroke-width="1.55"/>
<path d="M579.6 395.1V295.2H598.2V395.1" fill="none" stroke="#ff3b3b" stroke-width="1.55"/>
<path d="M609.8 395.1V333.4H628.4V395.1" fill="none" stroke="#2424ff" stroke-width="1.55"/>
<line x1="558.4" y1="356.2" x2="558.4" y2="361.9" stroke="#8c8c8c" stroke-width="1.25" stroke-linecap="butt"/>
<line x1="553.6" y1="356.2" x2="563.2" y2="356.2" stroke="#1a1a1a" stroke-width="1" stroke-linecap="butt"/>
<line x1="553.6" y1="361.9" x2="563.2" y2="361.9" stroke="#1a1a1a" stroke-width="1" stroke-linecap="butt"/>
<line x1="588.8" y1="287.2" x2="588.8" y2="301.7" stroke="#f3aab2" stroke-width="1" stroke-linecap="butt"/>
<line x1="584.2" y1="287.2" x2="593.4" y2="287.2" stroke="#f3aab2" stroke-width="1" stroke-linecap="butt"/>
<line x1="584.2" y1="301.7" x2="593.4" y2="301.7" stroke="#f3aab2" stroke-width="1" stroke-linecap="butt"/>
<line x1="619.5" y1="327.7" x2="619.5" y2="337.3" stroke="#9d9df7" stroke-width="1" stroke-linecap="butt"/>
<line x1="614.7" y1="327.7" x2="624.3" y2="327.7" stroke="#9d9df7" stroke-width="1" stroke-linecap="butt"/>
<line x1="614.7" y1="337.3" x2="624.3" y2="337.3" stroke="#9d9df7" stroke-width="1" stroke-linecap="butt"/>
<polyline points="556.8,251.3 556.8,244.1 586.5,244.1 586.5,251.3" fill="none" stroke="#151515" stroke-width="1.45" stroke-linejoin="miter"/>
<polyline points="589.2,251.3 589.2,244.1 619.4,244.1 619.4,251.3" fill="none" stroke="#151515" stroke-width="1.45" stroke-linejoin="miter"/>
<path d="M560.27 232.15L560.27 236.45M558.36 233.32L562.19 235.28M558.36 235.28L562.19 233.32" stroke="#111" stroke-width="1.32" stroke-linecap="round"/>
<path d="M567.83 232.15L567.83 236.45M565.91 233.32L569.74 235.28M565.91 235.28L569.74 233.32" stroke="#111" stroke-width="1.32" stroke-linecap="round"/>
<path d="M575.38 232.15L575.38 236.45M573.46 233.32L577.29 235.28M573.46 235.28L577.29 233.32" stroke="#111" stroke-width="1.32" stroke-linecap="round"/>
<path d="M582.93 232.15L582.93 236.45M581.01 233.32L584.84 235.28M581.01 235.28L584.84 233.32" stroke="#111" stroke-width="1.32" stroke-linecap="round"/>
<path d="M604.5 232.15L604.5 236.45M602.58 233.32L606.42 235.28M602.58 235.28L606.42 233.32" stroke="#111" stroke-width="1.32" stroke-linecap="round"/>
<text x="516.8" y="316.5" font-size="11" text-anchor="middle" fill="#1a1a1a" color="#1a1a1a" transform="rotate(-90 516.8 316.5)">Fasting insulin (ng/mL)</text>
<circle cx="563" cy="349.2" r="2.35" fill="#a3a3a6"/>
<circle cx="553.5" cy="352.7" r="2.35" fill="#a3a3a6"/>
<circle cx="563" cy="357.3" r="2.35" fill="#a3a3a6"/>
<circle cx="553.5" cy="360.6" r="2.35" fill="#a3a3a6"/>
<circle cx="553.5" cy="367.8" r="2.35" fill="#a3a3a6"/>
<circle cx="563" cy="366.2" r="2.35" fill="#a3a3a6"/>
<circle cx="588.8" cy="264.4" r="2.35" fill="#f09aa3"/>
<circle cx="588.8" cy="282.8" r="2.35" fill="#f09aa3"/>
<circle cx="588.8" cy="295.8" r="2.35" fill="#f09aa3"/>
<circle cx="588.8" cy="301.7" r="2.35" fill="#f09aa3"/>
<circle cx="588.8" cy="308" r="2.35" fill="#f09aa3"/>
<circle cx="588.8" cy="312.4" r="2.35" fill="#f09aa3"/>
<circle cx="619.5" cy="317.9" r="2.35" fill="#8a8af7"/>
<circle cx="619.5" cy="323.4" r="2.35" fill="#8a8af7"/>
<circle cx="623.8" cy="329.4" r="2.35" fill="#8a8af7"/>
<circle cx="614.6" cy="333" r="2.35" fill="#8a8af7"/>
<circle cx="619.5" cy="342.8" r="2.35" fill="#8a8af7"/>
<circle cx="619.5" cy="348.8" r="2.35" fill="#8a8af7"/>
<text x="-0.2" y="461.2" font-size="21.6" text-anchor="start" font-weight="bold" fill="#000" color="#000">g</text>
<line x1="52" y1="473.62" x2="52" y2="631.5" stroke="#1a1a1a" stroke-width="1.55" stroke-linecap="butt"/>
<line x1="45.8" y1="631.5" x2="52" y2="631.5" stroke="#1a1a1a" stroke-width="1.55" stroke-linecap="butt"/>
<text x="44.3" y="635.46" font-size="11.1" text-anchor="end" fill="#1a1a1a" color="#1a1a1a">0</text>
<line x1="45.8" y1="600.08" x2="52" y2="600.08" stroke="#1a1a1a" stroke-width="1.55" stroke-linecap="butt"/>
<text x="44.3" y="604.04" font-size="11.1" text-anchor="end" fill="#1a1a1a" color="#1a1a1a">5</text>
<line x1="45.8" y1="568.66" x2="52" y2="568.66" stroke="#1a1a1a" stroke-width="1.55" stroke-linecap="butt"/>
<text x="44.3" y="572.62" font-size="11.1" text-anchor="end" fill="#1a1a1a" color="#1a1a1a">10</text>
<line x1="45.8" y1="537.24" x2="52" y2="537.24" stroke="#1a1a1a" stroke-width="1.55" stroke-linecap="butt"/>
<text x="44.3" y="541.2" font-size="11.1" text-anchor="end" fill="#1a1a1a" color="#1a1a1a">15</text>
<line x1="45.8" y1="505.82" x2="52" y2="505.82" stroke="#1a1a1a" stroke-width="1.55" stroke-linecap="butt"/>
<text x="44.3" y="509.78" font-size="11.1" text-anchor="end" fill="#1a1a1a" color="#1a1a1a">20</text>
<line x1="45.8" y1="474.4" x2="52" y2="474.4" stroke="#1a1a1a" stroke-width="1.55" stroke-linecap="butt"/>
<text x="44.3" y="478.36" font-size="11.1" text-anchor="end" fill="#1a1a1a" color="#1a1a1a">25</text>
<line x1="45.3" y1="631.5" x2="157.1" y2="631.5" stroke="#1a1a1a" stroke-width="1.55" stroke-linecap="butt"/>
<line x1="72.5" y1="631.5" x2="72.5" y2="637.5" stroke="#1a1a1a" stroke-width="1.55" stroke-linecap="butt"/>
<text x="72.5" y="649.8" font-size="11" text-anchor="middle" fill="#1a1a1a" color="#1a1a1a">NC</text>
<line x1="104" y1="631.5" x2="104" y2="637.5" stroke="#1a1a1a" stroke-width="1.55" stroke-linecap="butt"/>
<text x="104" y="649.8" font-size="11" text-anchor="middle" fill="#1a1a1a" color="#1a1a1a">M</text>
<line x1="135.6" y1="631.5" x2="135.6" y2="637.5" stroke="#1a1a1a" stroke-width="1.55" stroke-linecap="butt"/>
<text x="135.6" y="649.8" font-size="11" text-anchor="middle" fill="#1a1a1a" color="#1a1a1a">PD</text>
<path d="M62.6 631.5V590.3H82.3V631.5" fill="none" stroke="#161616" stroke-width="1.55"/>
<path d="M94.1 631.5V509.8H114.1V631.5" fill="none" stroke="#ff3b3b" stroke-width="1.55"/>
<path d="M125.7 631.5V553.3H145.4V631.5" fill="none" stroke="#2424ff" stroke-width="1.55"/>
<line x1="72.3" y1="587.1" x2="72.3" y2="593.5" stroke="#8c8c8c" stroke-width="1.25" stroke-linecap="butt"/>
<line x1="67.3" y1="587.1" x2="77.3" y2="587.1" stroke="#1a1a1a" stroke-width="1" stroke-linecap="butt"/>
<line x1="67.3" y1="593.5" x2="77.3" y2="593.5" stroke="#1a1a1a" stroke-width="1" stroke-linecap="butt"/>
<line x1="104.2" y1="501.5" x2="104.2" y2="517.4" stroke="#f3aab2" stroke-width="1" stroke-linecap="butt"/>
<line x1="99.2" y1="501.5" x2="109.2" y2="501.5" stroke="#f3aab2" stroke-width="1" stroke-linecap="butt"/>
<line x1="99.2" y1="517.4" x2="109.2" y2="517.4" stroke="#f3aab2" stroke-width="1" stroke-linecap="butt"/>
<line x1="135.4" y1="549.1" x2="135.4" y2="555.7" stroke="#9d9df7" stroke-width="1" stroke-linecap="butt"/>
<line x1="130.4" y1="549.1" x2="140.4" y2="549.1" stroke="#9d9df7" stroke-width="1" stroke-linecap="butt"/>
<line x1="130.4" y1="555.7" x2="140.4" y2="555.7" stroke="#9d9df7" stroke-width="1" stroke-linecap="butt"/>
<polyline points="70.8,481.6 70.8,473.3 101.7,473.3 101.7,481.6" fill="none" stroke="#151515" stroke-width="1.45" stroke-linejoin="miter"/>
<polyline points="104.6,481.6 104.6,473.3 135.5,473.3 135.5,481.6" fill="none" stroke="#151515" stroke-width="1.45" stroke-linejoin="miter"/>
<path d="M74.67 461.05L74.67 465.35M72.76 462.22L76.59 464.18M72.76 464.18L76.59 462.22" stroke="#111" stroke-width="1.32" stroke-linecap="round"/>
<path d="M82.46 461.05L82.46 465.35M80.54 462.22L84.37 464.18M80.54 464.18L84.37 462.22" stroke="#111" stroke-width="1.32" stroke-linecap="round"/>
<path d="M90.24 461.05L90.24 465.35M88.33 462.22L92.16 464.18M88.33 464.18L92.16 462.22" stroke="#111" stroke-width="1.32" stroke-linecap="round"/>
<path d="M98.03 461.05L98.03 465.35M96.11 462.22L99.94 464.18M96.11 464.18L99.94 462.22" stroke="#111" stroke-width="1.32" stroke-linecap="round"/>
<path d="M120.2 461.05L120.2 465.35M118.28 462.22L122.12 464.18M118.28 464.18L122.12 462.22" stroke="#111" stroke-width="1.32" stroke-linecap="round"/>
<text x="24" y="553.1" font-size="12" text-anchor="middle" fill="#1a1a1a" color="#1a1a1a" transform="rotate(-90 24 553.1)">HOMA-IR</text>
<circle cx="72.3" cy="579.6" r="2.45" fill="#a3a3a6"/>
<circle cx="64.4" cy="587.1" r="2.45" fill="#a3a3a6"/>
<circle cx="80.7" cy="587.6" r="2.45" fill="#a3a3a6"/>
<circle cx="72.3" cy="591.7" r="2.45" fill="#a3a3a6"/>
<circle cx="64.4" cy="595.2" r="2.45" fill="#a3a3a6"/>
<circle cx="80.7" cy="594.1" r="2.45" fill="#a3a3a6"/>
<circle cx="108.7" cy="484.7" r="2.45" fill="#f09aa3"/>
<circle cx="99.2" cy="489.4" r="2.45" fill="#f09aa3"/>
<circle cx="104.2" cy="508.4" r="2.45" fill="#f09aa3"/>
<circle cx="104.2" cy="514.2" r="2.45" fill="#f09aa3"/>
<circle cx="104.2" cy="526.3" r="2.45" fill="#f09aa3"/>
<circle cx="104.2" cy="532.9" r="2.45" fill="#f09aa3"/>
<circle cx="135.4" cy="540.1" r="2.45" fill="#8a8af7"/>
<circle cx="135.4" cy="545.3" r="2.45" fill="#8a8af7"/>
<circle cx="130.6" cy="553.9" r="2.45" fill="#8a8af7"/>
<circle cx="140.3" cy="553.3" r="2.45" fill="#8a8af7"/>
<circle cx="140.3" cy="559.8" r="2.45" fill="#8a8af7"/>
<circle cx="130.6" cy="563.3" r="2.45" fill="#8a8af7"/>
<text x="169" y="461.6" font-size="20.6" text-anchor="start" font-weight="bold" fill="#000" color="#000">h</text>
<line x1="231.8" y1="474.02" x2="231.8" y2="631.9" stroke="#1a1a1a" stroke-width="1.55" stroke-linecap="butt"/>
<line x1="225.7" y1="631.9" x2="231.8" y2="631.9" stroke="#1a1a1a" stroke-width="1.55" stroke-linecap="butt"/>
<text x="223.7" y="635.76" font-size="10.8" text-anchor="end" fill="#1a1a1a" color="#1a1a1a">0.0</text>
<line x1="225.7" y1="600.48" x2="231.8" y2="600.48" stroke="#1a1a1a" stroke-width="1.55" stroke-linecap="butt"/>
<text x="223.7" y="604.34" font-size="10.8" text-anchor="end" fill="#1a1a1a" color="#1a1a1a">0.5</text>
<line x1="225.7" y1="569.06" x2="231.8" y2="569.06" stroke="#1a1a1a" stroke-width="1.55" stroke-linecap="butt"/>
<text x="223.7" y="572.92" font-size="10.8" text-anchor="end" fill="#1a1a1a" color="#1a1a1a">1.0</text>
<line x1="225.7" y1="537.64" x2="231.8" y2="537.64" stroke="#1a1a1a" stroke-width="1.55" stroke-linecap="butt"/>
<text x="223.7" y="541.5" font-size="10.8" text-anchor="end" fill="#1a1a1a" color="#1a1a1a">1.5</text>
<line x1="225.7" y1="506.22" x2="231.8" y2="506.22" stroke="#1a1a1a" stroke-width="1.55" stroke-linecap="butt"/>
<text x="223.7" y="510.08" font-size="10.8" text-anchor="end" fill="#1a1a1a" color="#1a1a1a">2.0</text>
<line x1="225.7" y1="474.8" x2="231.8" y2="474.8" stroke="#1a1a1a" stroke-width="1.55" stroke-linecap="butt"/>
<text x="223.7" y="478.66" font-size="10.8" text-anchor="end" fill="#1a1a1a" color="#1a1a1a">2.5</text>
<line x1="225.5" y1="631.9" x2="337.3" y2="631.9" stroke="#1a1a1a" stroke-width="1.55" stroke-linecap="butt"/>
<line x1="253.1" y1="631.9" x2="253.1" y2="637.9" stroke="#1a1a1a" stroke-width="1.55" stroke-linecap="butt"/>
<text x="253.1" y="649.8" font-size="11" text-anchor="middle" fill="#1a1a1a" color="#1a1a1a">NC</text>
<line x1="284.4" y1="631.9" x2="284.4" y2="637.9" stroke="#1a1a1a" stroke-width="1.55" stroke-linecap="butt"/>
<text x="284.4" y="649.8" font-size="11" text-anchor="middle" fill="#1a1a1a" color="#1a1a1a">M</text>
<line x1="315.9" y1="631.9" x2="315.9" y2="637.9" stroke="#1a1a1a" stroke-width="1.55" stroke-linecap="butt"/>
<text x="315.9" y="649.8" font-size="11" text-anchor="middle" fill="#1a1a1a" color="#1a1a1a">PD</text>
<path d="M243 631.9V576.5H262.7V631.9" fill="none" stroke="#161616" stroke-width="1.55"/>
<path d="M274.6 631.9V537.6H294.1V631.9" fill="none" stroke="#ff3b3b" stroke-width="1.55"/>
<path d="M305.8 631.9V575.4H325.5V631.9" fill="none" stroke="#2424ff" stroke-width="1.55"/>
<line x1="253.1" y1="573.4" x2="253.1" y2="577.6" stroke="#8c8c8c" stroke-width="1.25" stroke-linecap="butt"/>
<line x1="248.2" y1="573.4" x2="258" y2="573.4" stroke="#1a1a1a" stroke-width="1" stroke-linecap="butt"/>
<line x1="248.2" y1="577.6" x2="258" y2="577.6" stroke="#1a1a1a" stroke-width="1" stroke-linecap="butt"/>
<line x1="284.4" y1="530.4" x2="284.4" y2="543.4" stroke="#f3aab2" stroke-width="1" stroke-linecap="butt"/>
<line x1="279.4" y1="530.4" x2="289.4" y2="530.4" stroke="#f3aab2" stroke-width="1" stroke-linecap="butt"/>
<line x1="279.4" y1="543.4" x2="289.4" y2="543.4" stroke="#f3aab2" stroke-width="1" stroke-linecap="butt"/>
<line x1="315.9" y1="571.5" x2="315.9" y2="577.6" stroke="#9d9df7" stroke-width="1" stroke-linecap="butt"/>
<line x1="311" y1="571.5" x2="320.8" y2="571.5" stroke="#9d9df7" stroke-width="1" stroke-linecap="butt"/>
<line x1="311" y1="577.6" x2="320.8" y2="577.6" stroke="#9d9df7" stroke-width="1" stroke-linecap="butt"/>
<polyline points="251.1,491.5 251.1,484.1 281.9,484.1 281.9,491.5" fill="none" stroke="#151515" stroke-width="1.45" stroke-linejoin="miter"/>
<polyline points="284.9,491.5 284.9,484.1 316,484.1 316,491.5" fill="none" stroke="#151515" stroke-width="1.45" stroke-linejoin="miter"/>
<path d="M258.68 471.65L258.68 475.95M256.76 472.82L260.59 474.78M256.76 474.78L260.59 472.82" stroke="#111" stroke-width="1.32" stroke-linecap="round"/>
<path d="M266.65 471.65L266.65 475.95M264.73 472.82L268.57 474.78M264.73 474.78L268.57 472.82" stroke="#111" stroke-width="1.32" stroke-linecap="round"/>
<path d="M274.62 471.65L274.62 475.95M272.71 472.82L276.54 474.78M272.71 474.78L276.54 472.82" stroke="#111" stroke-width="1.32" stroke-linecap="round"/>
<path d="M292.48 471.65L292.48 475.95M290.56 472.82L294.39 474.78M290.56 474.78L294.39 472.82" stroke="#111" stroke-width="1.32" stroke-linecap="round"/>
<path d="M300.45 471.65L300.45 475.95M298.53 472.82L302.37 474.78M298.53 474.78L302.37 472.82" stroke="#111" stroke-width="1.32" stroke-linecap="round"/>
<path d="M308.43 471.65L308.43 475.95M306.51 472.82L310.34 474.78M306.51 474.78L310.34 472.82" stroke="#111" stroke-width="1.32" stroke-linecap="round"/>
<text x="201.5" y="553" font-size="12.1" text-anchor="middle" fill="#1a1a1a" color="#1a1a1a" transform="rotate(-90 201.5 553)">Serum triglyceride (mmol/L)</text>
<circle cx="255.4" cy="568.1" r="2.45" fill="#a3a3a6"/>
<circle cx="244.5" cy="572.8" r="2.45" fill="#a3a3a6"/>
<circle cx="261" cy="574.3" r="2.45" fill="#a3a3a6"/>
<circle cx="250.3" cy="576.6" r="2.45" fill="#a3a3a6"/>
<circle cx="255.9" cy="577.2" r="2.45" fill="#a3a3a6"/>
<circle cx="252.5" cy="584.2" r="2.45" fill="#a3a3a6"/>
<circle cx="284.2" cy="510" r="2.45" fill="#f09aa3"/>
<circle cx="279.5" cy="529.9" r="2.45" fill="#f09aa3"/>
<circle cx="289.1" cy="534.2" r="2.45" fill="#f09aa3"/>
<circle cx="279.5" cy="543.4" r="2.45" fill="#f09aa3"/>
<circle cx="289.1" cy="546" r="2.45" fill="#f09aa3"/>
<circle cx="284.2" cy="558.3" r="2.45" fill="#f09aa3"/>
<circle cx="310.9" cy="565.5" r="2.45" fill="#8a8af7"/>
<circle cx="320.7" cy="564.5" r="2.45" fill="#8a8af7"/>
<circle cx="320.4" cy="573.5" r="2.45" fill="#8a8af7"/>
<circle cx="310.9" cy="576.9" r="2.45" fill="#8a8af7"/>
<circle cx="320.7" cy="582" r="2.45" fill="#8a8af7"/>
<circle cx="310.9" cy="584.2" r="2.45" fill="#8a8af7"/>
<text x="341.4" y="457.6" font-size="20.6" text-anchor="start" font-weight="bold" fill="#000" color="#000">i</text>
<line x1="397" y1="471.43" x2="397" y2="631.2" stroke="#1a1a1a" stroke-width="1.55" stroke-linecap="butt"/>
<line x1="390.8" y1="631.2" x2="397" y2="631.2" stroke="#1a1a1a" stroke-width="1.55" stroke-linecap="butt"/>
<text x="389.1" y="634.98" font-size="10.6" text-anchor="end" fill="#1a1a1a" color="#1a1a1a">0</text>
<line x1="390.8" y1="599.4" x2="397" y2="599.4" stroke="#1a1a1a" stroke-width="1.55" stroke-linecap="butt"/>
<text x="389.1" y="603.18" font-size="10.6" text-anchor="end" fill="#1a1a1a" color="#1a1a1a">2</text>
<line x1="390.8" y1="567.6" x2="397" y2="567.6" stroke="#1a1a1a" stroke-width="1.55" stroke-linecap="butt"/>
<text x="389.1" y="571.38" font-size="10.6" text-anchor="end" fill="#1a1a1a" color="#1a1a1a">4</text>
<line x1="390.8" y1="535.8" x2="397" y2="535.8" stroke="#1a1a1a" stroke-width="1.55" stroke-linecap="butt"/>
<text x="389.1" y="539.58" font-size="10.6" text-anchor="end" fill="#1a1a1a" color="#1a1a1a">6</text>
<line x1="390.8" y1="504" x2="397" y2="504" stroke="#1a1a1a" stroke-width="1.55" stroke-linecap="butt"/>
<text x="389.1" y="507.78" font-size="10.6" text-anchor="end" fill="#1a1a1a" color="#1a1a1a">8</text>
<line x1="390.8" y1="472.2" x2="397" y2="472.2" stroke="#1a1a1a" stroke-width="1.55" stroke-linecap="butt"/>
<text x="389.1" y="475.98" font-size="10.6" text-anchor="end" fill="#1a1a1a" color="#1a1a1a">10</text>
<line x1="391.4" y1="631.2" x2="636.4" y2="631.2" stroke="#1a1a1a" stroke-width="1.55" stroke-linecap="butt"/>
<line x1="434.5" y1="631.2" x2="434.5" y2="637.2" stroke="#1a1a1a" stroke-width="1.55" stroke-linecap="butt"/>
<text x="434.5" y="649" font-size="11" text-anchor="middle" fill="#1a1a1a" color="#1a1a1a">TC</text>
<line x1="516.9" y1="631.2" x2="516.9" y2="637.2" stroke="#1a1a1a" stroke-width="1.55" stroke-linecap="butt"/>
<text x="516.9" y="649" font-size="11" text-anchor="middle" fill="#1a1a1a" color="#1a1a1a">HDL-C</text>
<line x1="598.2" y1="631.2" x2="598.2" y2="637.2" stroke="#1a1a1a" stroke-width="1.55" stroke-linecap="butt"/>
<text x="598.2" y="649" font-size="11" text-anchor="middle" fill="#1a1a1a" color="#1a1a1a">LDL-C</text>
<path d="M405.4 631.2V591.4H419.3V631.2" fill="none" stroke="#161616" stroke-width="1.55"/>
<path d="M427.8 631.2V535.9H441.3V631.2" fill="none" stroke="#ff3b3b" stroke-width="1.55"/>
<path d="M450.3 631.2V559.4H463.9V631.2" fill="none" stroke="#2424ff" stroke-width="1.55"/>
<line x1="412.4" y1="588.6" x2="412.4" y2="594.2" stroke="#8c8c8c" stroke-width="1.25" stroke-linecap="butt"/>
<line x1="408.8" y1="588.6" x2="416" y2="588.6" stroke="#1a1a1a" stroke-width="1" stroke-linecap="butt"/>
<line x1="408.8" y1="594.2" x2="416" y2="594.2" stroke="#1a1a1a" stroke-width="1" stroke-linecap="butt"/>
<line x1="434.5" y1="529.4" x2="434.5" y2="540.7" stroke="#f3aab2" stroke-width="1" stroke-linecap="butt"/>
<line x1="430.9" y1="529.4" x2="438.1" y2="529.4" stroke="#f3aab2" stroke-width="1" stroke-linecap="butt"/>
<line x1="430.9" y1="540.7" x2="438.1" y2="540.7" stroke="#f3aab2" stroke-width="1" stroke-linecap="butt"/>
<line x1="457" y1="553.1" x2="457" y2="562.8" stroke="#9d9df7" stroke-width="1" stroke-linecap="butt"/>
<line x1="453.4" y1="553.1" x2="460.6" y2="553.1" stroke="#9d9df7" stroke-width="1" stroke-linecap="butt"/>
<line x1="453.4" y1="562.8" x2="460.6" y2="562.8" stroke="#9d9df7" stroke-width="1" stroke-linecap="butt"/>
<path d="M487.5 631.2V608.8H501V631.2" fill="none" stroke="#161616" stroke-width="1.55"/>
<path d="M509.8 631.2V574.2H523.5V631.2" fill="none" stroke="#ff3b3b" stroke-width="1.55"/>
<path d="M532.2 631.2V572.9H545.8V631.2" fill="none" stroke="#2424ff" stroke-width="1.55"/>
<line x1="494.2" y1="606.3" x2="494.2" y2="611.3" stroke="#8c8c8c" stroke-width="1.25" stroke-linecap="butt"/>
<line x1="490.6" y1="606.3" x2="497.8" y2="606.3" stroke="#1a1a1a" stroke-width="1" stroke-linecap="butt"/>
<line x1="490.6" y1="611.3" x2="497.8" y2="611.3" stroke="#1a1a1a" stroke-width="1" stroke-linecap="butt"/>
<line x1="516.6" y1="570.4" x2="516.6" y2="576.8" stroke="#f3aab2" stroke-width="1" stroke-linecap="butt"/>
<line x1="513" y1="570.4" x2="520.2" y2="570.4" stroke="#f3aab2" stroke-width="1" stroke-linecap="butt"/>
<line x1="513" y1="576.8" x2="520.2" y2="576.8" stroke="#f3aab2" stroke-width="1" stroke-linecap="butt"/>
<line x1="539" y1="560.3" x2="539" y2="583.8" stroke="#9d9df7" stroke-width="1" stroke-linecap="butt"/>
<line x1="535.4" y1="560.3" x2="542.6" y2="560.3" stroke="#9d9df7" stroke-width="1" stroke-linecap="butt"/>
<line x1="535.4" y1="583.8" x2="542.6" y2="583.8" stroke="#9d9df7" stroke-width="1" stroke-linecap="butt"/>
<path d="M569.6 631.2V606.6H583.2V631.2" fill="none" stroke="#161616" stroke-width="1.55"/>
<path d="M591.8 631.2V570.4H605.4V631.2" fill="none" stroke="#ff3b3b" stroke-width="1.55"/>
<path d="M614.4 631.2V583.6H628V631.2" fill="none" stroke="#2424ff" stroke-width="1.55"/>
<line x1="576.4" y1="604.4" x2="576.4" y2="607.6" stroke="#8c8c8c" stroke-width="1.25" stroke-linecap="butt"/>
<line x1="572.8" y1="604.4" x2="580" y2="604.4" stroke="#1a1a1a" stroke-width="1" stroke-linecap="butt"/>
<line x1="572.8" y1="607.6" x2="580" y2="607.6" stroke="#1a1a1a" stroke-width="1" stroke-linecap="butt"/>
<line x1="598.5" y1="567.6" x2="598.5" y2="573.3" stroke="#f3aab2" stroke-width="1" stroke-linecap="butt"/>
<line x1="594.9" y1="567.6" x2="602.1" y2="567.6" stroke="#f3aab2" stroke-width="1" stroke-linecap="butt"/>
<line x1="594.9" y1="573.3" x2="602.1" y2="573.3" stroke="#f3aab2" stroke-width="1" stroke-linecap="butt"/>
<line x1="621" y1="581.6" x2="621" y2="585.6" stroke="#9d9df7" stroke-width="1" stroke-linecap="butt"/>
<line x1="617.4" y1="581.6" x2="624.6" y2="581.6" stroke="#9d9df7" stroke-width="1" stroke-linecap="butt"/>
<line x1="617.4" y1="585.6" x2="624.6" y2="585.6" stroke="#9d9df7" stroke-width="1" stroke-linecap="butt"/>
<polyline points="406.9,509 406.9,502 429.7,502 429.7,509" fill="none" stroke="#151515" stroke-width="1.45" stroke-linejoin="miter"/>
<polyline points="433.9,508 433.9,501.1 456.9,501.1 456.9,508" fill="none" stroke="#151515" stroke-width="1.45" stroke-linejoin="miter"/>
<polyline points="492.7,558.4 492.7,551.1 515.2,551.1 515.2,558.4" fill="none" stroke="#151515" stroke-width="1.45" stroke-linejoin="miter"/>
<polyline points="575.1,553.2 575.1,546.1 598.2,546.1 598.2,553.2" fill="none" stroke="#151515" stroke-width="1.45" stroke-linejoin="miter"/>
<polyline points="601.6,553.2 601.6,546.1 624.3,546.1 624.3,553.2" fill="none" stroke="#151515" stroke-width="1.45" stroke-linejoin="miter"/>
<path d="M409.38 490.85L409.38 495.15M407.46 492.02L411.29 493.98M407.46 493.98L411.29 492.02" stroke="#111" stroke-width="1.32" stroke-linecap="round"/>
<path d="M415.43 490.85L415.43 495.15M413.51 492.02L417.34 493.98M413.51 493.98L417.34 492.02" stroke="#111" stroke-width="1.32" stroke-linecap="round"/>
<path d="M421.47 490.85L421.47 495.15M419.56 492.02L423.39 493.98M419.56 493.98L423.39 492.02" stroke="#111" stroke-width="1.32" stroke-linecap="round"/>
<path d="M427.52 490.85L427.52 495.15M425.61 492.02L429.44 493.98M425.61 493.98L429.44 492.02" stroke="#111" stroke-width="1.32" stroke-linecap="round"/>
<path d="M445.55 490.85L445.55 495.15M443.63 492.02L447.47 493.98M443.63 493.98L447.47 492.02" stroke="#111" stroke-width="1.32" stroke-linecap="round"/>
<path d="M498.07 540.45L498.07 544.75M496.16 541.62L499.99 543.58M496.16 543.58L499.99 541.62" stroke="#111" stroke-width="1.32" stroke-linecap="round"/>
<path d="M504.05 540.45L504.05 544.75M502.13 541.62L505.97 543.58M502.13 543.58L505.97 541.62" stroke="#111" stroke-width="1.32" stroke-linecap="round"/>
<path d="M510.03 540.45L510.03 544.75M508.11 541.62L511.94 543.58M508.11 543.58L511.94 541.62" stroke="#111" stroke-width="1.32" stroke-linecap="round"/>
<path d="M580.27 535.75L580.27 540.05M578.36 536.92L582.19 538.88M578.36 538.88L582.19 536.92" stroke="#111" stroke-width="1.32" stroke-linecap="round"/>
<path d="M586.65 535.75L586.65 540.05M584.73 536.92L588.57 538.88M584.73 538.88L588.57 536.92" stroke="#111" stroke-width="1.32" stroke-linecap="round"/>
<path d="M593.03 535.75L593.03 540.05M591.11 536.92L594.94 538.88M591.11 538.88L594.94 536.92" stroke="#111" stroke-width="1.32" stroke-linecap="round"/>
<path d="M610.38 535.75L610.38 540.05M608.46 536.92L612.29 538.88M608.46 538.88L612.29 536.92" stroke="#111" stroke-width="1.32" stroke-linecap="round"/>
<path d="M616.73 535.75L616.73 540.05M614.81 536.92L618.64 538.88M614.81 538.88L618.64 536.92" stroke="#111" stroke-width="1.32" stroke-linecap="round"/>
<text x="370.5" y="552.2" font-size="12.2" text-anchor="middle" fill="#1a1a1a" color="#1a1a1a" transform="rotate(-90 370.5 552.2)">Serum cholesterol (mmol/L)</text>
<text x="667.5" y="482.9" font-size="11.8" text-anchor="start" fill="#1a1a1a" color="#1a1a1a">NC</text>
<text x="667.5" y="498.7" font-size="11.8" text-anchor="start" fill="#1a1a1a" color="#1a1a1a">M</text>
<text x="667.5" y="517.2" font-size="11.8" text-anchor="start" fill="#1a1a1a" color="#1a1a1a">PD</text>
<circle cx="409.6" cy="584.9" r="2.3" fill="#a3a3a6"/>
<circle cx="414.9" cy="583.1" r="2.3" fill="#a3a3a6"/>
<circle cx="411.7" cy="589.6" r="2.3" fill="#a3a3a6"/>
<circle cx="407.5" cy="597" r="2.3" fill="#a3a3a6"/>
<circle cx="412.4" cy="594.2" r="2.3" fill="#a3a3a6"/>
<circle cx="417.2" cy="595.6" r="2.3" fill="#a3a3a6"/>
<circle cx="434.5" cy="517.7" r="2.3" fill="#f09aa3"/>
<circle cx="432.1" cy="523.5" r="2.3" fill="#f09aa3"/>
<circle cx="437.3" cy="525.7" r="2.3" fill="#f09aa3"/>
<circle cx="434.5" cy="545.7" r="2.3" fill="#f09aa3"/>
<circle cx="429.4" cy="549.7" r="2.3" fill="#f09aa3"/>
<circle cx="439.7" cy="547.4" r="2.3" fill="#f09aa3"/>
<circle cx="456.9" cy="548.5" r="2.3" fill="#8a8af7"/>
<circle cx="451.7" cy="559" r="2.3" fill="#8a8af7"/>
<circle cx="455" cy="557.4" r="2.3" fill="#8a8af7"/>
<circle cx="461.8" cy="558" r="2.3" fill="#8a8af7"/>
<circle cx="458.7" cy="562.3" r="2.3" fill="#8a8af7"/>
<circle cx="455.3" cy="566" r="2.3" fill="#8a8af7"/>
<circle cx="489.2" cy="603.8" r="2.3" fill="#a3a3a6"/>
<circle cx="494.1" cy="604.4" r="2.3" fill="#a3a3a6"/>
<circle cx="499.4" cy="603.5" r="2.3" fill="#a3a3a6"/>
<circle cx="494.1" cy="610.4" r="2.3" fill="#a3a3a6"/>
<circle cx="489.7" cy="613.4" r="2.3" fill="#a3a3a6"/>
<circle cx="498.9" cy="613.4" r="2.3" fill="#a3a3a6"/>
<circle cx="511.5" cy="564.6" r="2.3" fill="#f09aa3"/>
<circle cx="521.7" cy="567.4" r="2.3" fill="#f09aa3"/>
<circle cx="521.7" cy="572.5" r="2.3" fill="#f09aa3"/>
<circle cx="511.5" cy="575" r="2.3" fill="#f09aa3"/>
<circle cx="521.7" cy="577.3" r="2.3" fill="#f09aa3"/>
<circle cx="516.6" cy="583.3" r="2.3" fill="#f09aa3"/>
<circle cx="539" cy="555.6" r="2.3" fill="#8a8af7"/>
<circle cx="533.9" cy="564.2" r="2.3" fill="#8a8af7"/>
<circle cx="543.8" cy="567.7" r="2.3" fill="#8a8af7"/>
<circle cx="539" cy="574.6" r="2.3" fill="#8a8af7"/>
<circle cx="533.9" cy="587" r="2.3" fill="#8a8af7"/>
<circle cx="543.8" cy="584.2" r="2.3" fill="#8a8af7"/>
<circle cx="574.5" cy="599.9" r="2.3" fill="#a3a3a6"/>
<circle cx="578.3" cy="601.3" r="2.3" fill="#a3a3a6"/>
<circle cx="571" cy="604.8" r="2.3" fill="#a3a3a6"/>
<circle cx="571.6" cy="610.7" r="2.3" fill="#a3a3a6"/>
<circle cx="577.5" cy="608.8" r="2.3" fill="#a3a3a6"/>
<circle cx="580.2" cy="608.5" r="2.3" fill="#a3a3a6"/>
<circle cx="596.1" cy="563.2" r="2.3" fill="#f09aa3"/>
<circle cx="601.2" cy="562.3" r="2.3" fill="#f09aa3"/>
<circle cx="593.4" cy="571.6" r="2.3" fill="#f09aa3"/>
<circle cx="598.5" cy="572.2" r="2.3" fill="#f09aa3"/>
<circle cx="603.6" cy="571.6" r="2.3" fill="#f09aa3"/>
<circle cx="598.5" cy="578.2" r="2.3" fill="#f09aa3"/>
<circle cx="619.2" cy="579.5" r="2.3" fill="#8a8af7"/>
<circle cx="626.2" cy="580.4" r="2.3" fill="#8a8af7"/>
<circle cx="615.7" cy="581.9" r="2.3" fill="#8a8af7"/>
<circle cx="622.2" cy="580.9" r="2.3" fill="#8a8af7"/>
<circle cx="619.3" cy="587.5" r="2.3" fill="#8a8af7"/>
<circle cx="623" cy="586.4" r="2.3" fill="#8a8af7"/>
<circle cx="648.9" cy="478.8" r="2.5" fill="#a3a3a6"/>
<circle cx="648.9" cy="494.7" r="2.5" fill="#f09aa3"/>
<circle cx="648.9" cy="513.1" r="2.5" fill="#8a8af7"/>
</svg></body></html>
